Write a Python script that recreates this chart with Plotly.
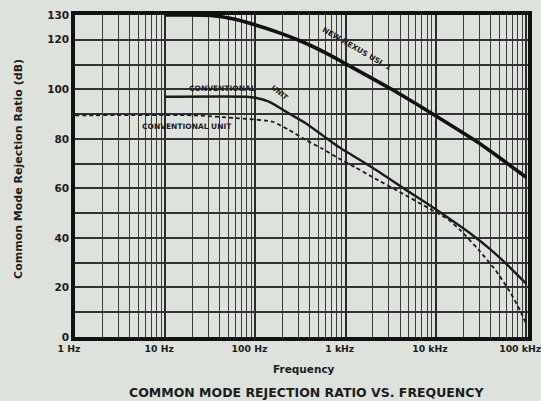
import plotly.graph_objects as go

# ---- data ----
nexus_freq_hz = [10, 18, 32, 56, 100, 178, 316, 600, 1000, 3160, 10000, 31600, 100000]
nexus_db = [130, 130, 129.8, 128.5, 126, 123, 119.5, 114.7, 110.3, 100.2, 89.2, 77.7, 64.5]

conv_solid_freq_hz = [10, 80, 100, 141, 234, 363, 550, 830, 1950, 4600, 8300, 15800, 25100, 39800, 63100, 100000]
conv_solid_db = [97, 97, 96.6, 95, 90.3, 86.2, 81.5, 76.8, 68.5, 59.5, 53.5, 46.5, 41.3, 35.5, 28.8, 21.5]

conv_dash_freq_hz = [1, 20, 66, 155, 234, 363, 550, 830, 1290, 1950, 4570, 8300, 13800, 19000, 29500, 45700, 67600, 87000, 98000]
conv_dash_db = [89.5, 89.5, 88.3, 86.9, 83.6, 79.5, 76.0, 72.2, 68.4, 64.7, 57.3, 52, 47.3, 42.8, 35.3, 27, 17.6, 10.2, 6.0]

x_tick_vals = [1, 10, 100, 1000, 10000, 100000]
x_tick_text = ["1 Hz", "10 Hz", "100 Hz", "1 kHz", "10 kHz", "100 kHz"]
y_tick_vals = [0, 20, 40, 60, 80, 100, 120, 130]
y_tick_text = ["0", "20", "40", "60", "80", "100", "120", "130"]

FONT = "DejaVu Sans"
INK = "#1c1c1c"
BG = "#dde3dc"

fig = go.Figure()
fig.add_trace(go.Scatter(x=conv_dash_freq_hz, y=conv_dash_db, mode="lines",
                         line=dict(color=INK, width=1.8, dash="4px,3px", shape="spline", smoothing=0.5),
                         showlegend=False, hoverinfo="skip"))
fig.add_trace(go.Scatter(x=conv_solid_freq_hz, y=conv_solid_db, mode="lines",
                         line=dict(color=INK, width=2.4, shape="spline", smoothing=0.5),
                         showlegend=False, hoverinfo="skip"))
fig.add_trace(go.Scatter(x=nexus_freq_hz, y=nexus_db, mode="lines",
                         line=dict(color="#111111", width=3.6, shape="spline", smoothing=0.5),
                         showlegend=False, hoverinfo="skip"))

fig.update_layout(
    width=541, height=401,
    margin=dict(l=75, r=13, t=15, b=64, autoexpand=False),
    paper_bgcolor=BG, plot_bgcolor=BG,
    font=dict(family=FONT, color=INK),
    xaxis=dict(type="log", range=[0, 5.02], tickmode="array",
               tickvals=x_tick_vals, ticktext=x_tick_text,
               ticklabeloverflow="allow", automargin=False, ticklabelshift=-6,
               tickfont=dict(size=9.3, family=FONT, weight=700, color=INK),
               showgrid=True, gridcolor="#2b2b2b", gridwidth=1.6,
               minor=dict(dtick="D1", showgrid=True, gridcolor="#3a3d3a", gridwidth=1.2),
               showline=True, linecolor="#111111", linewidth=3.5, mirror=True,
               ticks="", zeroline=False),
    yaxis=dict(range=[0, 130], tickmode="array",
               tickvals=y_tick_vals, ticktext=y_tick_text, automargin=False,
               tickfont=dict(size=10.5, family=FONT, weight=700, color=INK),
               showgrid=True, gridcolor="#333333", gridwidth=1.6,
               minor=dict(tickmode="linear", tick0=0, dtick=10, showgrid=True,
                          gridcolor="#333333", gridwidth=1.6),
               showline=True, linecolor="#111111", linewidth=3.5, mirror=True,
               ticks="", zeroline=False),
)

def lbl(x, y, text, size=7.5, angle=0, ref="data"):
    d = dict(text=text, showarrow=False, textangle=angle,
             font=dict(family=FONT, size=size, weight=700, color=INK),
             xanchor="center", yanchor="middle")
    if ref == "data":
        d.update(x=x, y=y, xref="x", yref="y")
    else:
        d.update(x=x, y=y, xref="paper", yref="paper")
    fig.add_annotation(**d)

lbl(3.12, 116.6, "NEW NEXUS USL-1", size=7.5, angle=30)
lbl(1.634, 100.5, "CONVENTIONAL", size=7.5)
lbl(2.27, 98.6, "UNIT", size=7, angle=38)
lbl(1.236, 84.8, "CONVENTIONAL UNIT", size=7.5)
lbl(0.506, -0.099, "Frequency", size=10.5, ref="paper")
lbl(0.512, -0.171, "COMMON MODE REJECTION RATIO VS. FREQUENCY", size=12.5, ref="paper")
lbl(-0.1236, 0.522, "Common Mode Rejection Ratio (dB)", size=11, angle=-90, ref="paper")

fig.write_html("out.html",
               config={"displayModeBar": False},
               post_script="document.body.style.margin='0';document.body.style.overflow='hidden';"
                           "document.body.style.background='" + BG + "';")
